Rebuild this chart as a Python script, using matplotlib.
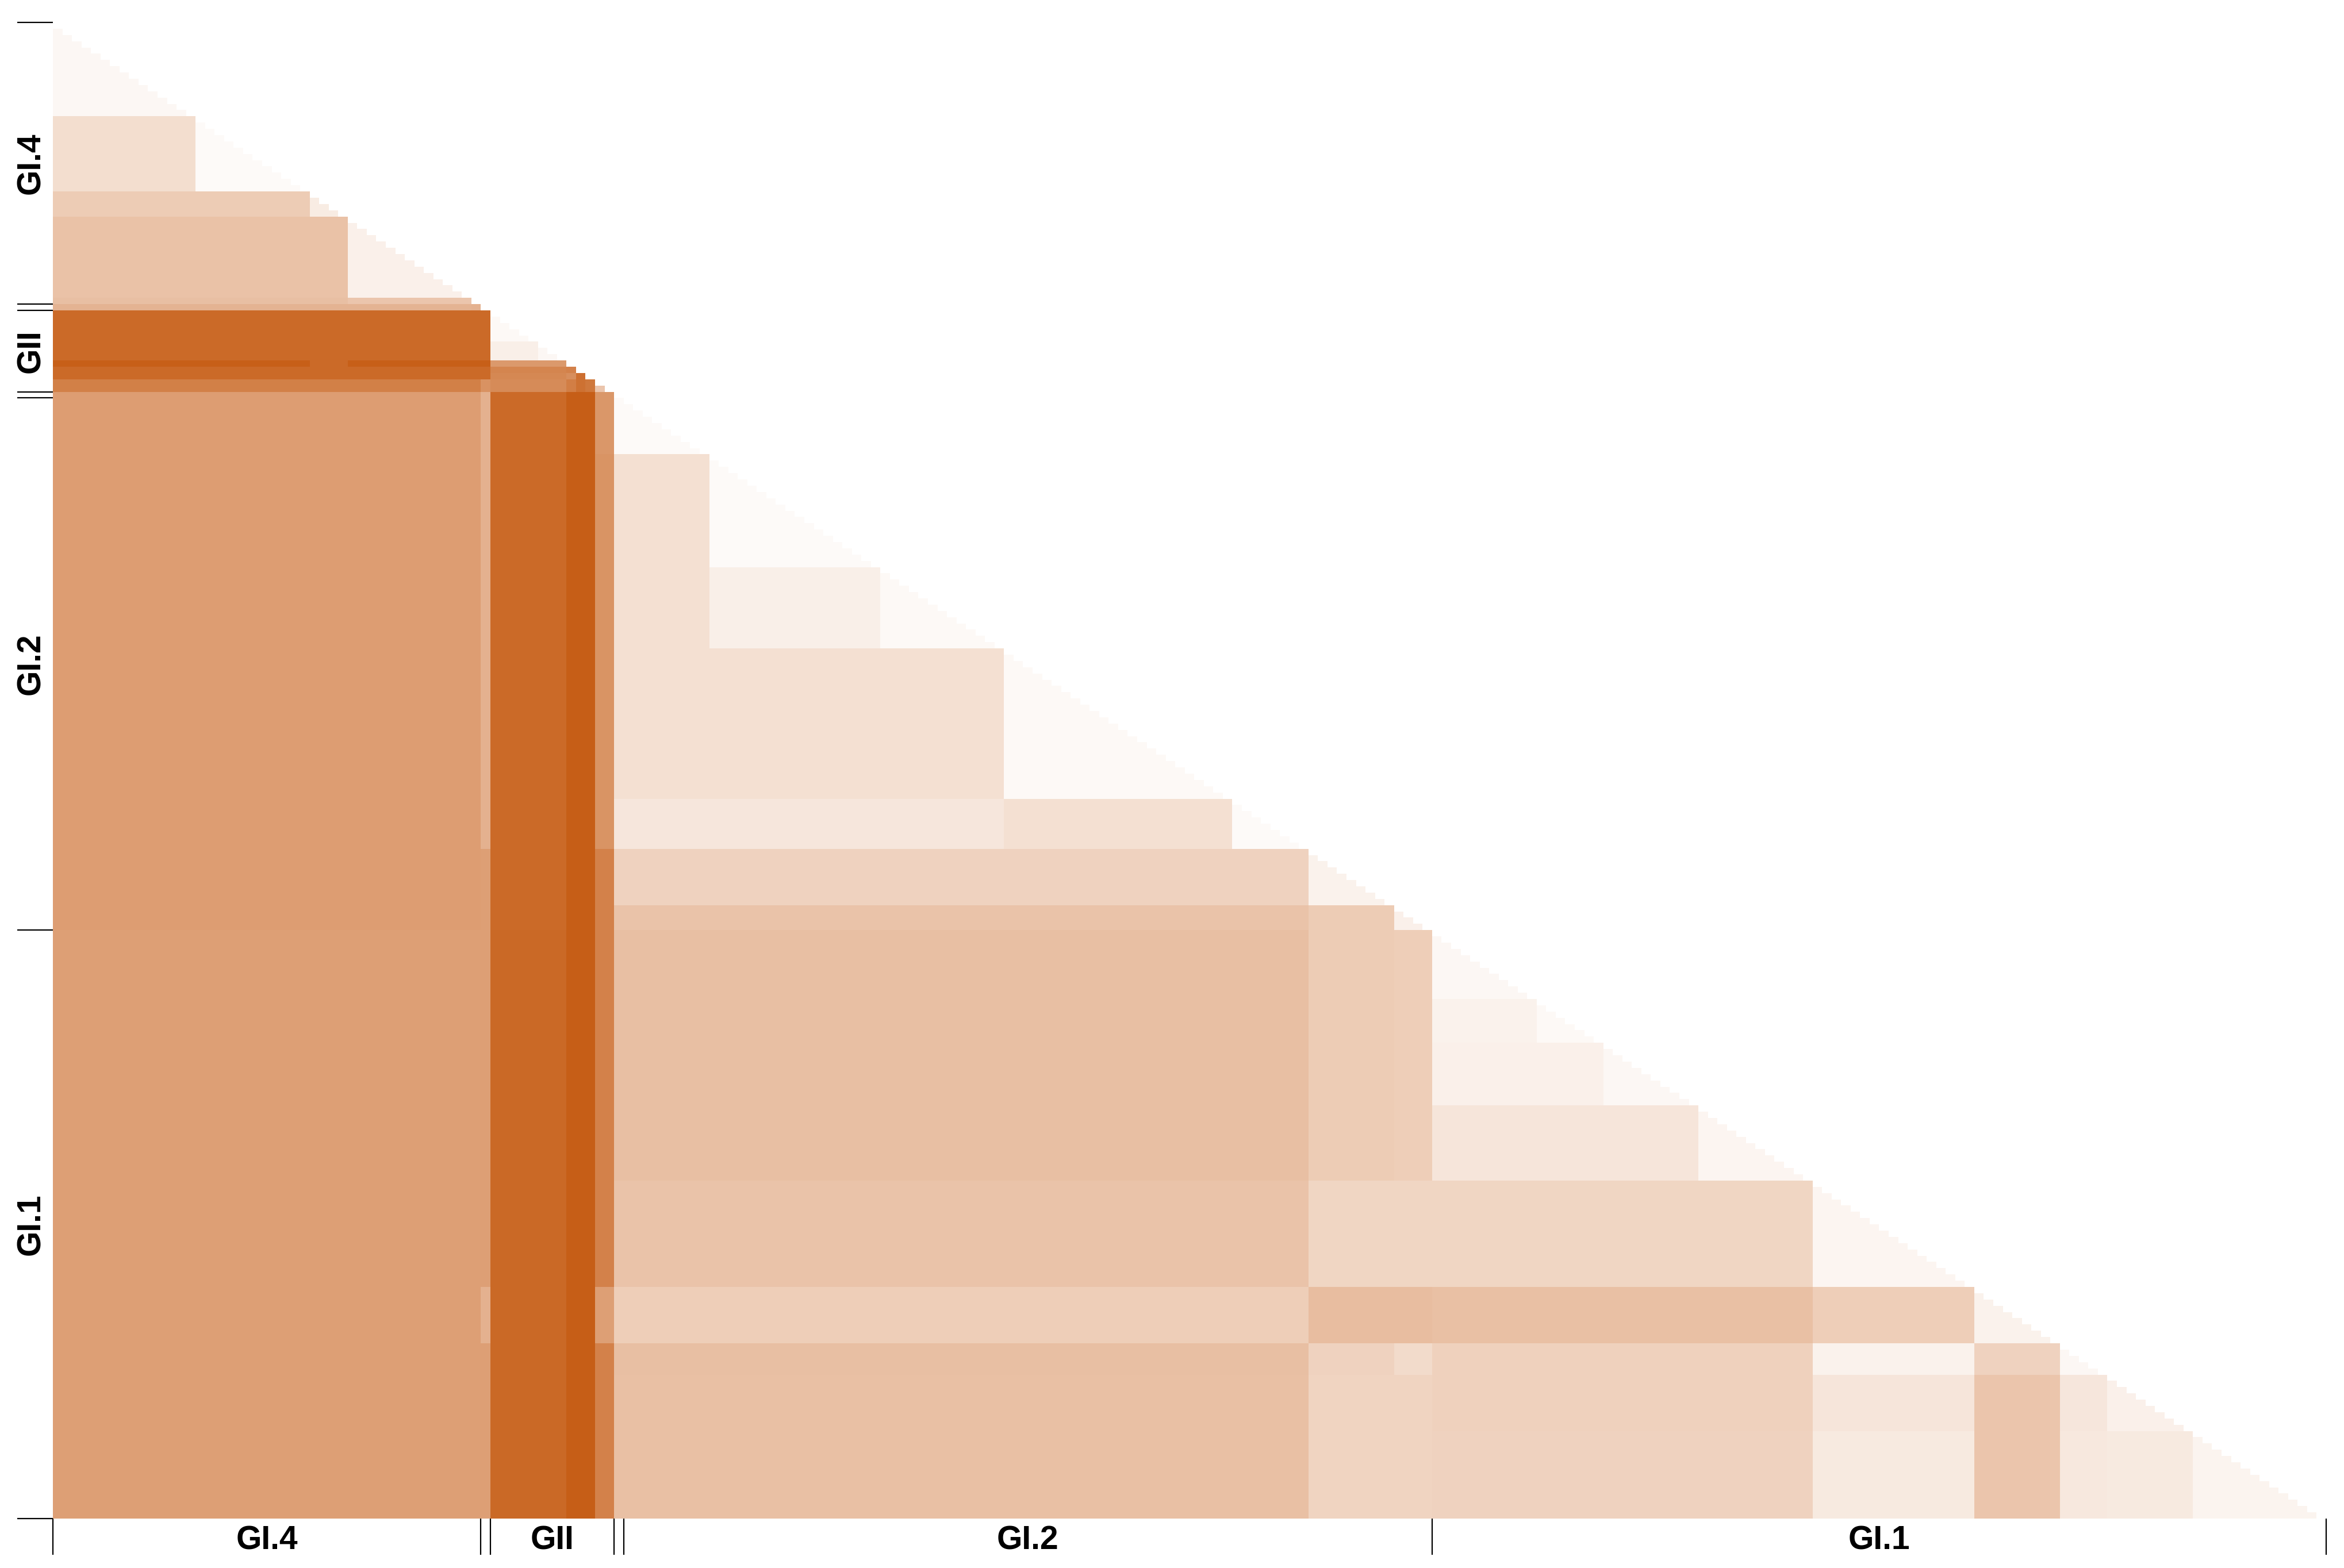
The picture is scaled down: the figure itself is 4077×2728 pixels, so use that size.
import numpy as np
import matplotlib
matplotlib.use("Agg")
import matplotlib.pyplot as plt
from matplotlib.colors import LinearSegmentedColormap

# ---------------- data ----------------
group_labels = ["GI.4", "", "GII", "", "GI.2", "GI.1"]
group_sizes = [45, 1, 13, 1, 85, 94]

# sub-clusters (in display order) and their sizes (sequences)
cluster_names = ["A1", "A2", "A3", "A4", "A5", "S1",
                 "B1a", "B1b", "B2a", "B2b", "B2c", "B3",
                 "C1", "C2a", "C2b", "C3", "C4", "C5", "C6",
                 "D1a", "D1b", "D1c", "D2", "D3", "D4", "D5", "D6", "D7"]
cluster_sizes = [15, 12, 4, 13, 1, 1,
                 5, 3, 1, 1, 1, 2,
                 10, 18, 13, 24, 8, 9, 4,
                 11, 7, 10, 12, 17, 9, 5, 9, 14]

# lower-triangular table of (scaled) pairwise distances between sub-clusters
cluster_dist = [
    [0.05],
    [0.20, 0.03],
    [0.31, 0.31, 0.12],
    [0.37, 0.37, 0.37, 0.09],
    [0.39, 0.39, 0.39, 0.35, 0.00],
    [0.46, 0.46, 0.46, 0.46, 0.47, 0.00],
    [0.90, 0.90, 0.90, 0.90, 0.90, 0.90, 0.04],
    [0.90, 0.90, 0.90, 0.90, 0.90, 0.90, 0.10, 0.05],
    [0.97, 0.97, 0.90, 0.97, 0.97, 0.97, 0.62, 0.62, 0.00],
    [0.90, 0.90, 0.90, 0.90, 0.90, 0.90, 0.74, 0.74, 0.76, 0.00],
    [0.90, 0.90, 0.90, 0.90, 0.90, 0.90, 0.72, 0.72, 0.68, 0.87, 0.00],
    [0.77, 0.77, 0.77, 0.77, 0.77, 0.66, 0.70, 0.70, 0.78, 0.86, 0.82, 0.35],
    [0.59, 0.59, 0.59, 0.59, 0.59, 0.47, 0.90, 0.90, 0.975, 0.975, 0.975, 0.63, 0.03],
    [0.59, 0.59, 0.59, 0.59, 0.59, 0.47, 0.90, 0.90, 0.975, 0.975, 0.975, 0.65, 0.19, 0.03],
    [0.59, 0.59, 0.59, 0.59, 0.59, 0.47, 0.90, 0.90, 0.975, 0.975, 0.975, 0.65, 0.19, 0.10, 0.04],
    [0.59, 0.59, 0.59, 0.59, 0.59, 0.47, 0.90, 0.90, 0.975, 0.975, 0.975, 0.65, 0.19, 0.19, 0.19, 0.04],
    [0.59, 0.59, 0.59, 0.59, 0.59, 0.47, 0.90, 0.90, 0.975, 0.975, 0.975, 0.65, 0.15, 0.15, 0.15, 0.19, 0.03],
    [0.59, 0.59, 0.59, 0.59, 0.59, 0.58, 0.90, 0.90, 0.975, 0.975, 0.975, 0.76, 0.27, 0.27, 0.27, 0.27, 0.27, 0.08],
    [0.59, 0.59, 0.59, 0.59, 0.59, 0.58, 0.90, 0.90, 0.975, 0.975, 0.975, 0.76, 0.36, 0.36, 0.36, 0.36, 0.36, 0.31, 0.09],
    [0.58, 0.58, 0.58, 0.58, 0.58, 0.58, 0.91, 0.91, 0.975, 0.975, 0.975, 0.76, 0.39, 0.39, 0.39, 0.39, 0.39, 0.31, 0.30,
     0.05],
    [0.58, 0.58, 0.58, 0.58, 0.58, 0.58, 0.91, 0.91, 0.975, 0.975, 0.975, 0.76, 0.39, 0.39, 0.39, 0.39, 0.39, 0.31, 0.30,
     0.08, 0.04],
    [0.58, 0.58, 0.58, 0.58, 0.58, 0.58, 0.91, 0.91, 0.975, 0.975, 0.975, 0.76, 0.39, 0.39, 0.39, 0.39, 0.39, 0.31, 0.30,
     0.09, 0.09, 0.05],
    [0.58, 0.58, 0.58, 0.58, 0.58, 0.58, 0.91, 0.91, 0.975, 0.975, 0.975, 0.76, 0.39, 0.39, 0.39, 0.39, 0.39, 0.31, 0.30,
     0.16, 0.16, 0.16, 0.06],
    [0.58, 0.58, 0.58, 0.58, 0.58, 0.58, 0.91, 0.91, 0.975, 0.975, 0.975, 0.76, 0.36, 0.36, 0.36, 0.36, 0.36, 0.25, 0.25,
     0.25, 0.25, 0.25, 0.25, 0.06],
    [0.58, 0.58, 0.58, 0.58, 0.58, 0.47, 0.91, 0.91, 0.975, 0.975, 0.975, 0.58, 0.30, 0.30, 0.30, 0.30, 0.30, 0.40, 0.40,
     0.38, 0.38, 0.38, 0.38, 0.30, 0.08],
    [0.58, 0.58, 0.58, 0.58, 0.58, 0.58, 0.91, 0.91, 0.975, 0.975, 0.975, 0.76, 0.39, 0.39, 0.39, 0.39, 0.39, 0.27, 0.22,
     0.28, 0.28, 0.28, 0.28, 0.08, 0.27, 0.05],
    [0.58, 0.58, 0.58, 0.58, 0.58, 0.58, 0.91, 0.91, 0.975, 0.975, 0.975, 0.76, 0.38, 0.38, 0.38, 0.38, 0.38, 0.26, 0.26,
     0.28, 0.28, 0.28, 0.28, 0.16, 0.35, 0.15, 0.09],
    [0.58, 0.58, 0.58, 0.58, 0.58, 0.58, 0.91, 0.91, 0.975, 0.975, 0.975, 0.76, 0.38, 0.38, 0.38, 0.38, 0.38, 0.26, 0.26,
     0.27, 0.27, 0.27, 0.27, 0.13, 0.35, 0.14, 0.13, 0.07],
]

# ---------------- build matrix ----------------
nc = len(cluster_sizes)
K = np.zeros((nc, nc))
for a, row in enumerate(cluster_dist):
    for b, v in enumerate(row):
        K[a, b] = v
        K[b, a] = v
member = np.repeat(np.arange(nc), cluster_sizes)
D = K[np.ix_(member, member)]
np.fill_diagonal(D, 0.0)
N = len(member)
mask = np.triu(np.ones((N, N), dtype=bool), k=1)
Dm = np.ma.masked_array(D, mask)

cmap = LinearSegmentedColormap.from_list("white_orange", ["#FFFFFF", "#C55A11"])

# ---------------- plot ----------------
plt.rcParams['font.family'] = ['Liberation Sans', 'DejaVu Sans']
W, H = 4077, 2728
fig = plt.figure(figsize=(W / 100, H / 100), dpi=100)
fig.patch.set_facecolor("white")
ax = fig.add_axes([92 / W, 1 - 2642 / H, 3954 / W, 2603 / H])
ax.pcolormesh(np.arange(N + 1), np.arange(N + 1), Dm, cmap=cmap, vmin=0, vmax=1,
              shading='flat', edgecolors='none', antialiased=False)
ax.set_xlim(0, N)
ax.set_ylim(N, 0)
for s in ax.spines.values():
    s.set_visible(False)

bounds = np.concatenate([[0], np.cumsum(group_sizes)])
centers = (bounds[:-1] + bounds[1:]) / 2
ax.set_xticks(bounds)
ax.set_yticks(bounds)
ax.set_xticklabels([])
ax.set_yticklabels([])
ax.set_xticks(centers, minor=True)
ax.set_yticks(centers, minor=True)
ax.set_xticklabels(group_labels, minor=True, fontsize=41, fontweight='bold')
ax.set_yticklabels(group_labels, minor=True, fontsize=41, fontweight='bold',
                   rotation=90, va='center', ha='right')
ax.tick_params(which='major', length=45, width=1.6, color='black')
ax.tick_params(which='minor', length=0, pad=8)

fig.savefig("out.png", dpi=100, facecolor="white")
